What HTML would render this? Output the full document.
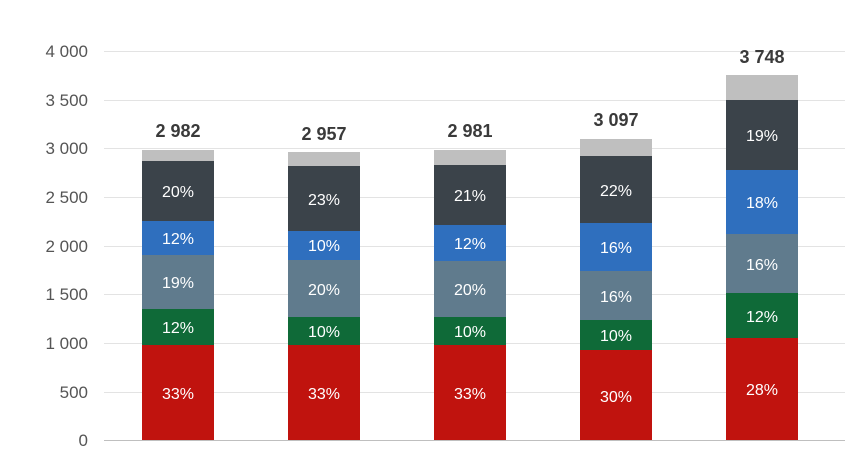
<!DOCTYPE html>
<html><head><style>body{margin:0;background:#fff}svg{display:block}</style></head><body>
<svg width="859" height="449" xmlns="http://www.w3.org/2000/svg" font-family="Liberation Sans, sans-serif">
<g stroke="#e3e3e3" stroke-width="1">
<line x1="104" x2="845" y1="51.5" y2="51.5"/><line x1="104" x2="845" y1="100.5" y2="100.5"/>
<line x1="104" x2="845" y1="148.5" y2="148.5"/><line x1="104" x2="845" y1="197.5" y2="197.5"/>
<line x1="104" x2="845" y1="246.5" y2="246.5"/><line x1="104" x2="845" y1="294.5" y2="294.5"/>
<line x1="104" x2="845" y1="343.5" y2="343.5"/><line x1="104" x2="845" y1="392.5" y2="392.5"/>
</g>
<g font-size="17" fill="#555" text-anchor="end">
<text x="88" y="57">4 000</text><text x="88" y="106">3 500</text><text x="88" y="154">3 000</text>
<text x="88" y="203">2 500</text><text x="88" y="252">2 000</text><text x="88" y="300">1 500</text>
<text x="88" y="349">1 000</text><text x="88" y="398">500</text><text x="88" y="446">0</text>
</g>
<g id="bars">
<!-- bar1 -->
<rect x="142" y="150" width="72" height="11" fill="#bfbfbf"/>
<rect x="142" y="161" width="72" height="60" fill="#3b434a"/>
<rect x="142" y="221" width="72" height="34" fill="#2f6fbe"/>
<rect x="142" y="255" width="72" height="54" fill="#607b8d"/>
<rect x="142" y="309" width="72" height="36" fill="#0f6a38"/>
<rect x="142" y="345" width="72" height="95" fill="#c0130e"/>
<!-- bar2 -->
<rect x="288" y="152" width="72" height="14" fill="#bfbfbf"/>
<rect x="288" y="166" width="72" height="65" fill="#3b434a"/>
<rect x="288" y="231" width="72" height="29" fill="#2f6fbe"/>
<rect x="288" y="260" width="72" height="57" fill="#607b8d"/>
<rect x="288" y="317" width="72" height="28" fill="#0f6a38"/>
<rect x="288" y="345" width="72" height="95" fill="#c0130e"/>
<!-- bar3 -->
<rect x="434" y="150" width="72" height="15" fill="#bfbfbf"/>
<rect x="434" y="165" width="72" height="60" fill="#3b434a"/>
<rect x="434" y="225" width="72" height="36" fill="#2f6fbe"/>
<rect x="434" y="261" width="72" height="56" fill="#607b8d"/>
<rect x="434" y="317" width="72" height="28" fill="#0f6a38"/>
<rect x="434" y="345" width="72" height="95" fill="#c0130e"/>
<!-- bar4 -->
<rect x="580" y="139" width="72" height="17" fill="#bfbfbf"/>
<rect x="580" y="156" width="72" height="67" fill="#3b434a"/>
<rect x="580" y="223" width="72" height="48" fill="#2f6fbe"/>
<rect x="580" y="271" width="72" height="49" fill="#607b8d"/>
<rect x="580" y="320" width="72" height="30" fill="#0f6a38"/>
<rect x="580" y="350" width="72" height="90" fill="#c0130e"/>
<!-- bar5 -->
<rect x="726" y="75" width="72" height="25" fill="#bfbfbf"/>
<rect x="726" y="100" width="72" height="70" fill="#3b434a"/>
<rect x="726" y="170" width="72" height="64" fill="#2f6fbe"/>
<rect x="726" y="234" width="72" height="59" fill="#607b8d"/>
<rect x="726" y="293" width="72" height="45" fill="#0f6a38"/>
<rect x="726" y="338" width="72" height="102" fill="#c0130e"/>
</g>
<line x1="104" x2="845" y1="440.5" y2="440.5" stroke="#bfbfbf"/>
<g font-size="16" fill="#fff" text-anchor="middle">
<text x="178" y="197">20%</text><text x="178" y="244">12%</text><text x="178" y="288">19%</text><text x="178" y="333">12%</text><text x="178" y="399">33%</text>
<text x="324" y="205">23%</text><text x="324" y="251">10%</text><text x="324" y="295">20%</text><text x="324" y="337">10%</text><text x="324" y="399">33%</text>
<text x="470" y="201">21%</text><text x="470" y="249">12%</text><text x="470" y="295">20%</text><text x="470" y="337">10%</text><text x="470" y="399">33%</text>
<text x="616" y="196">22%</text><text x="616" y="253">16%</text><text x="616" y="302">16%</text><text x="616" y="341">10%</text><text x="616" y="402">30%</text>
<text x="762" y="141">19%</text><text x="762" y="208">18%</text><text x="762" y="270">16%</text><text x="762" y="322">12%</text><text x="762" y="395">28%</text>
</g>
<g font-size="18" font-weight="bold" fill="#3a3a3a" text-anchor="middle">
<text x="178" y="137">2 982</text><text x="324" y="140">2 957</text><text x="470" y="137">2 981</text>
<text x="616" y="126">3 097</text><text x="762" y="63">3 748</text>
</g>
</svg>
</body></html>
